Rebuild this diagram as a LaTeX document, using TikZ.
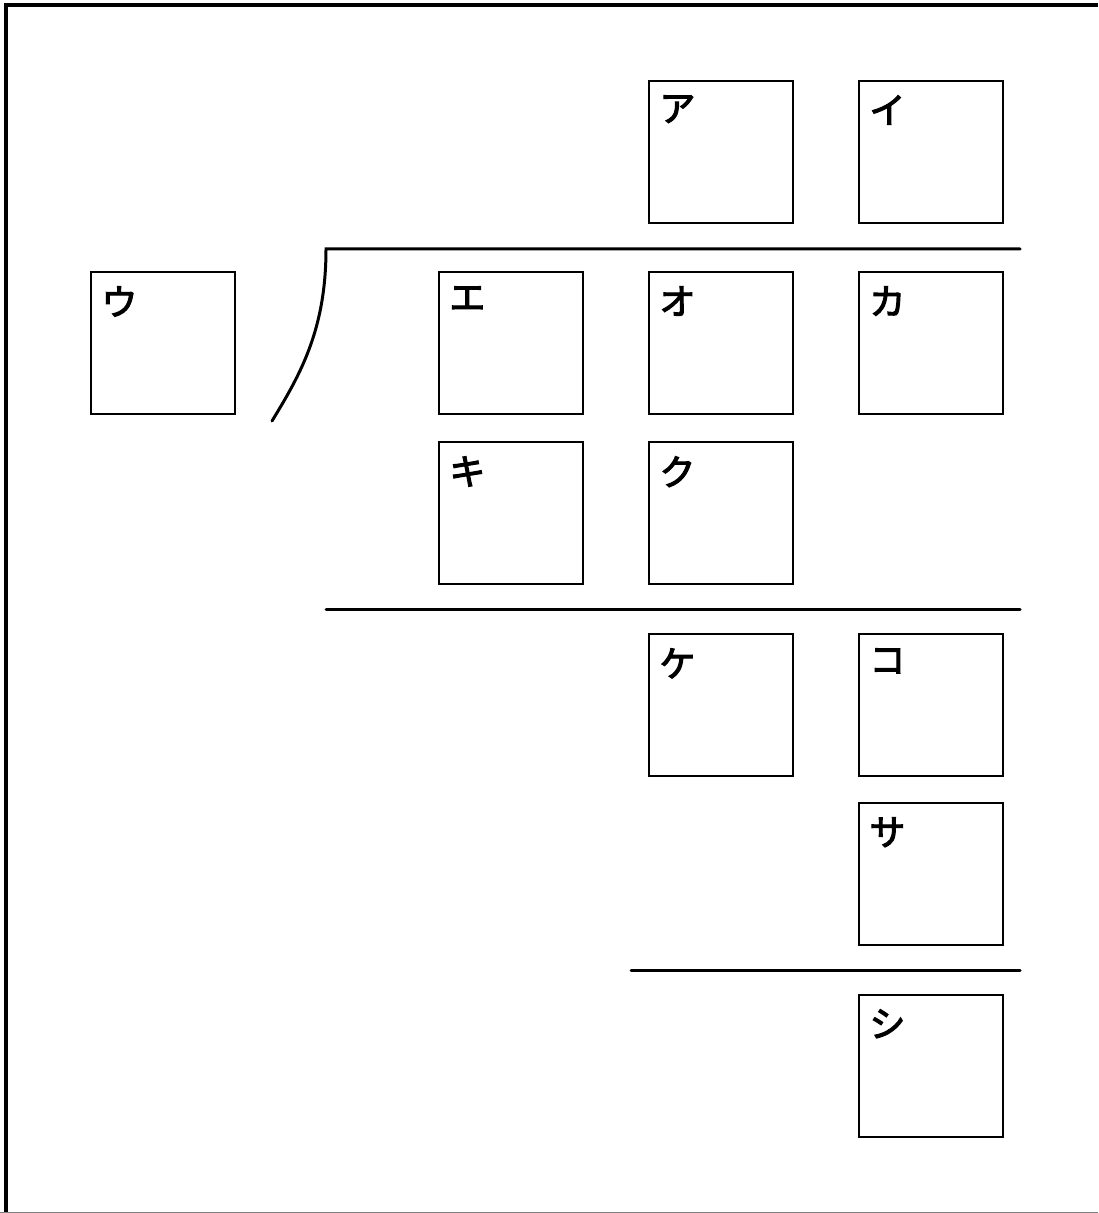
\documentclass[tikz,border=0pt]{standalone}
\usepackage{fontspec}
\newfontfamily\jpfont[FakeBold=3]{Noto Sans CJK JP}
\usetikzlibrary{positioning}

\begin{document}
\begin{tikzpicture}[x=0.5pt,y=-0.5pt,
  cell/.style={draw,line width=0.85pt,minimum width=72pt,minimum height=71pt,anchor=north west,inner sep=0pt},
  digit/.style={anchor=north west,inner sep=0pt,xshift=5.5pt,yshift=-7.5pt,font=\jpfont\fontsize{18}{18}\selectfont},
  rule/.style={line width=1.5pt,line cap=round}]
  \useasboundingbox (0,0) rectangle (1098,1213);
  % frame
  \draw[line width=1.75pt] (6,1213) -- (6,5) -- (1098,5);
  \draw[gray,line width=0.5pt] (0,1212.5) -- (1098,1212.5);
  % boxes
  \foreach \n/\x/\y/\t in {a/648/80/ア,b/858/80/イ,c/90/271/ウ,d/438/271/エ,e/648/271/オ,f/858/271/カ,
      g/438/441/キ,h/648/441/ク,i/648/633/ケ,j/858/633/コ,k/858/802/サ,l/858/994/シ}
    \node[cell,label={[digit]north west:\t}] (\n) at (\x,\y) {};
  % division bracket and rules
  \draw[rule] (272,421) .. controls (300,375) and (326,330) .. (326,249) -- (1020,249);
  \draw[rule] (326,609) -- (1020,609);
  \draw[rule] (631,970) -- (1020,970);
\end{tikzpicture}
\end{document}
